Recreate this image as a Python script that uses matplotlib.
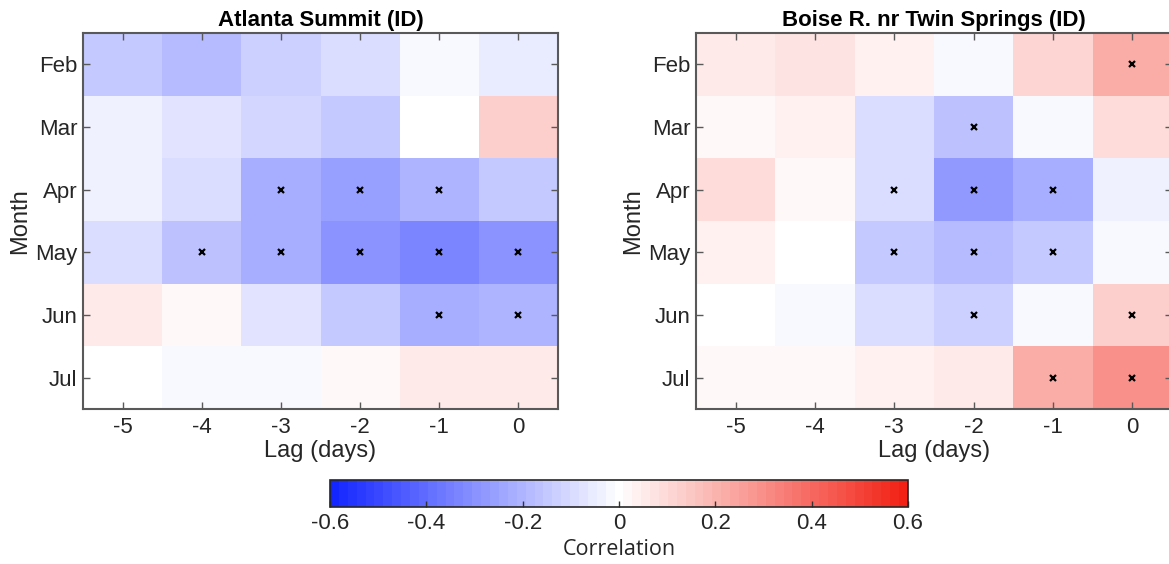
import numpy as np
import matplotlib
matplotlib.use("Agg")
import matplotlib.pyplot as plt
from matplotlib.colors import LinearSegmentedColormap, Normalize

plt.rcParams['font.family'] = ['Liberation Sans', 'DejaVu Sans']

months = ["Feb", "Mar", "Apr", "May", "Jun", "Jul"]
lags = [-5, -4, -3, -2, -1, 0]

atlanta_title = "Atlanta Summit (ID)"
atlanta_corr = [
    [-0.15, -0.18, -0.13, -0.09, -0.02, -0.05],
    [-0.035, -0.08, -0.12, -0.15, 0.0, 0.12],
    [-0.035, -0.09, -0.22, -0.25, -0.21, -0.14],
    [-0.09, -0.17, -0.22, -0.29, -0.33, -0.29],
    [0.06, 0.01, -0.07, -0.15, -0.22, -0.21],
    [0.0, -0.02, -0.02, 0.01, 0.06, 0.06],
]
atlanta_sig = [
    [0, 0, 0, 0, 0, 0],
    [0, 0, 0, 0, 0, 0],
    [0, 0, 1, 1, 1, 0],
    [0, 1, 1, 1, 1, 1],
    [0, 0, 0, 0, 1, 1],
    [0, 0, 0, 0, 0, 0],
]

boise_title = "Boise R. nr Twin Springs (ID)"
boise_corr = [
    [0.05, 0.08, 0.035, -0.02, 0.11, 0.22],
    [0.01, 0.035, -0.09, -0.17, -0.015, 0.09],
    [0.09, 0.01, -0.09, -0.27, -0.22, -0.035],
    [0.04, 0.0, -0.14, -0.19, -0.15, -0.015],
    [0.0, -0.02, -0.09, -0.13, -0.015, 0.13],
    [0.015, 0.015, 0.035, 0.06, 0.22, 0.29],
]
boise_sig = [
    [0, 0, 0, 0, 0, 1],
    [0, 0, 0, 1, 0, 0],
    [0, 0, 1, 1, 1, 0],
    [0, 0, 1, 1, 1, 0],
    [0, 0, 0, 1, 0, 1],
    [0, 0, 0, 0, 1, 1],
]

cbar_ticks = [-0.6, -0.4, -0.2, 0, 0.2, 0.4, 0.6]
cbar_ticklabels = ["-0.6", "-0.4", "-0.2", "0", "0.2", "0.4", "0.6"]

cmap = LinearSegmentedColormap.from_list(
    "bwr_matlab", [(0.08, 0.15, 1.0), (1.0, 1.0, 1.0), (0.95, 0.13, 0.08)], N=65)
norm = Normalize(vmin=-0.6, vmax=0.6)

W, H = 1169, 564
fig = plt.figure(figsize=(W / 100, H / 100), dpi=100)

text_color = (0.15, 0.15, 0.15)
spine_color = (0.35, 0.35, 0.35)


def px_axes(x0, y0, x1, y1):
    return fig.add_axes([x0 / W, 1 - y1 / H, (x1 - x0) / W, (y1 - y0) / H])


def draw_panel(ax, title, corr, sig):
    data = np.array(corr)
    ax.pcolormesh(np.arange(len(lags) + 1) - 5.5, np.arange(len(months) + 1) - 0.5,
                  data, cmap=cmap, norm=norm, shading='flat')
    ax.set_xlim(-5.5, 0.5)
    ax.set_ylim(len(months) - 0.5, -0.5)
    s = np.array(sig)
    rr, cc = np.nonzero(s)
    ax.plot(np.array(lags)[cc], rr, linestyle='none', marker='x', color='black',
            markersize=4, markeredgewidth=1.6)
    ax.set_xticks(lags)
    ax.set_xticklabels([str(l) for l in lags])
    ax.set_yticks(range(len(months)))
    ax.set_yticklabels(months)
    ax.tick_params(direction='in', top=True, right=True, length=5, width=1,
                   color=spine_color, labelsize=16, labelcolor=text_color)
    ax.tick_params(axis='y', pad=4)
    ax.tick_params(axis='x', pad=6)
    for sp in ax.spines.values():
        sp.set_color(spine_color)
        sp.set_linewidth(1.5)
    ax.set_title(title, fontsize=16, fontweight='bold', color='black', pad=5)
    ax.set_xlabel("Lag (days)", fontsize=17, color=text_color, labelpad=1)
    ax.set_ylabel("Month", fontsize=17, color=text_color, labelpad=3)


ax1 = px_axes(83, 33, 558, 409)
draw_panel(ax1, atlanta_title, atlanta_corr, atlanta_sig)
ax2 = px_axes(696, 33, 1172, 409)
draw_panel(ax2, boise_title, boise_corr, boise_sig)

cax = px_axes(330, 480, 908, 507)
sm = matplotlib.cm.ScalarMappable(norm=norm, cmap=cmap)
cb = fig.colorbar(sm, cax=cax, orientation='horizontal')
cb.set_ticks(cbar_ticks)
cb.set_ticklabels(cbar_ticklabels)
cb.ax.tick_params(direction='in', length=4, width=1, color=(0.2, 0.2, 0.2),
                  labelsize=16, labelcolor=text_color, pad=4)
cb.outline.set_linewidth(1.2)
cb.outline.set_edgecolor((0.15, 0.15, 0.15))
cb.set_label("Correlation", fontsize=15.5, family=['Open Sans', 'DejaVu Sans'],
             color=text_color, labelpad=4)

fig.savefig("out.png", dpi=100)
